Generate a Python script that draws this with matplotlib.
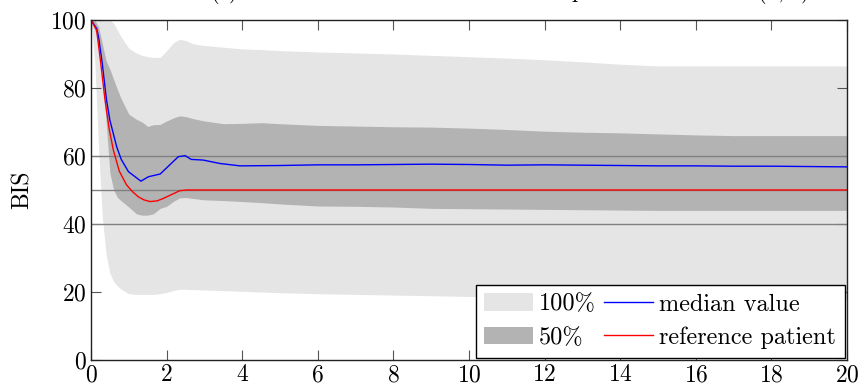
import matplotlib
matplotlib.use("Agg")
import matplotlib.pyplot as plt
from matplotlib.patches import Patch
from matplotlib.lines import Line2D

plt.rcParams['font.family'] = 'serif'
plt.rcParams['font.serif'] = ['cmr10']
plt.rcParams['mathtext.fontset'] = 'cm'
plt.rcParams['axes.formatter.use_mathtext'] = True

# Band data (common time grid)
t_band = [0, 0.1, 0.2, 0.3, 0.4, 0.5, 0.6, 0.7, 0.8, 1.0, 1.2, 1.35, 1.5, 1.65, 1.83,
          2.0, 2.2, 2.35, 2.5, 2.7, 3.0, 3.5, 4, 4.5, 5, 6, 7, 8, 9, 10, 11, 12, 13,
          14, 15, 16, 17, 18, 19, 20]
full_upper = [100, 100, 100, 100, 100, 100, 99, 97, 95, 91.7, 90.3, 89.6, 89.2, 89, 89,
              91, 93.5, 94.3, 94, 93, 92.5, 92, 91.5, 91.3, 91, 90.6, 90.3, 90, 89.6,
              89.2, 88.8, 88.3, 87.7, 87, 86.5, 86.5, 86.5, 86.5, 86.5, 86.5]
full_lower = [100, 88, 62, 42, 31, 25.5, 23, 21.8, 20.8, 19.5, 19.3, 19.3, 19.3, 19.3, 19.5,
              19.9, 20.5, 20.8, 20.8, 20.7, 20.6, 20.4, 20.2, 20, 19.8, 19.5, 19.3, 19.1,
              18.9, 18.7, 18.5, 18.4, 18.2, 18.1, 18, 18, 17.9, 17.9, 17.8, 17.8]
half_upper = [100, 100, 98, 93, 88, 85.5, 82.5, 79.5, 76.8, 72.3, 70.8, 70, 68.7, 69.2, 69.3,
              70.3, 71.3, 71.8, 71.6, 71, 70.3, 69.5, 69.6, 69.8, 69.5, 69, 68.8, 68.6,
              68.5, 68.2, 67.8, 67.3, 67, 66.8, 66.5, 66.2, 66, 66, 66, 66]
half_lower = [100, 97, 93, 85, 70, 55, 50, 47.8, 46.8, 45, 43, 42.6, 42.6, 43, 44.6,
              45.2, 46.8, 47.7, 47.8, 47.5, 47.1, 46.9, 46.6, 46.3, 45.9, 45.3, 45.2, 45,
              44.6, 44.5, 44.4, 44.3, 44.2, 44.1, 44, 44, 44, 44, 44, 44]

# Median value
t_median = [0, 0.15, 0.2, 0.3, 0.41, 0.5, 0.68, 0.8, 0.99, 1.32, 1.52, 1.83, 2.31, 2.49,
            2.65, 2.97, 3.41, 3.94, 5, 6, 7, 8, 9, 10, 11, 12, 13, 14, 15, 16, 17, 18, 19, 20]
median = [100, 97.5, 95, 87, 76.5, 70.5, 62.7, 59, 55.4, 52.6, 53.9, 54.7, 59.8, 60.1,
          59, 58.8, 57.8, 57.1, 57.2, 57.4, 57.4, 57.5, 57.6, 57.5, 57.3, 57.4, 57.3, 57.2,
          57.1, 57.1, 57.0, 57.0, 56.9, 56.8]

# Reference patient
t_ref = [0, 0.15, 0.25, 0.37, 0.48, 0.59, 0.75, 0.94, 1.1, 1.25, 1.4, 1.56, 1.75, 1.91,
         2.1, 2.35, 2.53, 3, 20]
ref = [100, 97, 88, 76.5, 68, 61.8, 55.5, 51.5, 49.5, 48, 47.1, 46.6, 46.8, 47.5,
       48.5, 49.8, 50, 50, 50]

x_ticks = [0, 2, 4, 6, 8, 10, 12, 14, 16, 18, 20]
y_ticks = [0, 20, 40, 60, 80, 100]
grid_levels = [40, 50, 60]

light = '#e5e5e5'
dark = '#b3b3b3'

fig = plt.figure(figsize=(8.62, 3.89), dpi=100)
ax = fig.add_axes([91/862, 29/389, 756/862, 340/389])

ax.fill_between(t_band, full_lower, full_upper, color=light, lw=0, zorder=1)
ax.fill_between(t_band, half_lower, half_upper, color=dark, lw=0, zorder=2)
for g in grid_levels:
    ax.axhline(g, color='#808080', lw=1.0, zorder=3)
ax.plot(t_median, median, color='#0000ff', lw=1.0, zorder=4)
ax.plot(t_ref, ref, color='#ff0000', lw=1.0, zorder=5)

ax.set_xlim(0, 20)
ax.set_ylim(0, 100)
ax.set_xticks(x_ticks)
ax.set_yticks(y_ticks)
ax.tick_params(direction='in', length=7, width=0.8, color='#555555', labelsize=17,
               top=True, right=True, pad=3)
for s in ax.spines.values():
    s.set_linewidth(1.0)
    s.set_color('#222222')
    s.set_zorder(6)
ax.set_ylabel('BIS', fontsize=17, labelpad=12)

fig.text(509/862, 1 + 1.5/389, '(c) Simulated BIS with variations of parameters from $\\mathcal{N}(0,\\sigma)$',
         ha='center', va='baseline', fontsize=16)

handles = [Patch(facecolor=light, edgecolor='none'), Patch(facecolor=dark, edgecolor='none'),
           Line2D([], [], color='#0000ff', lw=1.0), Line2D([], [], color='#ff0000', lw=1.0)]
labels = ['100%', '50%', 'median value', 'reference patient']
leg = ax.legend(handles, labels, ncol=2, loc='lower right', bbox_to_anchor=(1.0, 0.0),
                fontsize=17.5, frameon=True, fancybox=False, framealpha=1, edgecolor='black',
                handlelength=2.0, handleheight=0.75, handletextpad=0.25, columnspacing=0.35,
                borderpad=0.35, labelspacing=0.45, borderaxespad=0.1)
leg.get_frame().set_linewidth(1.0)
leg.set_zorder(10)

fig.savefig('out.png', dpi=100)
